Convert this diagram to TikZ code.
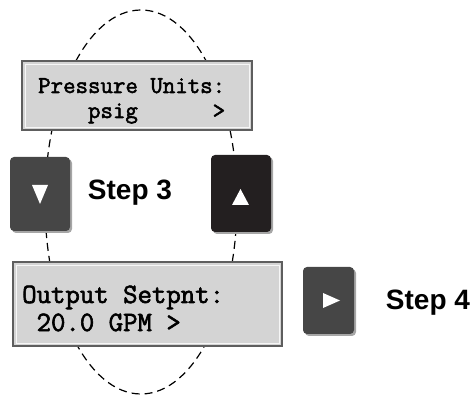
\documentclass[tikz,border=0pt]{standalone}
\usepackage{fontspec}
\setmainfont{Liberation Sans}
\newfontfamily\lcdfont[FakeBold=2.2]{Latin Modern Mono}
\usepackage{tikz}
\definecolor{lcdgray}{HTML}{D4D4D4}
\definecolor{lcdedge}{HTML}{5E5E5E}
\definecolor{keygray}{HTML}{464646}
\definecolor{keyblack}{HTML}{231F20}
\tikzset{
  lcdbox/.style={draw=lcdedge, line width=1.6pt, fill=lcdgray},
  keybox/.style={rounded corners=4pt},
  keyshadow/.style={fill=black!35, rounded corners=4pt},
  keymark/.style={fill=white, draw=none},
  steplabel/.style={font=\bfseries\fontsize{28}{28}\selectfont, inner sep=0pt}
}

\begin{document}
\begin{tikzpicture}[x=1pt, y=-1pt]
			%%%%% START %%%%%
			\useasboundingbox (0, 0) rectangle (474, 395);
			
			\draw[line width=1.2pt, dash pattern=on 8pt off 5pt] (141, 202) ellipse (96 and 192);
			
			\draw[lcdbox] (22, 61) rectangle (252, 130);
			\draw[line width=0.6pt, color=white!80!lcdgray] (25, 64) rectangle (249, 127);
			\node[anchor=base west, inner sep=0pt] (unitsA) at (38, 93) {\lcdfont\fontsize{24.2}{24.2}\selectfont Pressure Units:};
			\node[anchor=base west, inner sep=0pt] (unitsB) at (38, 118) {\lcdfont\fontsize{24.2}{24.2}\selectfont \hphantom{pres}psig\hphantom{ uni}\hphantom{ts}>};
			
			\draw[lcdbox] (13, 262) rectangle (282, 346);
			\draw[line width=0.6pt, color=white!80!lcdgray] (16, 265) rectangle (279, 343);
			\node[anchor=base west, inner sep=0pt] (setpA) at (22, 303) {\lcdfont\fontsize{28}{28}\selectfont Output Setpnt:};
			\node[anchor=base west, inner sep=0pt] (setpB) at (22, 331) {\lcdfont\fontsize{28}{28}\selectfont \hphantom{O}20.0 GPM >};
			
			% down key
			\fill[keyshadow] (12, 159) rectangle (72, 233);
			\fill[keybox, fill=keygray] (10, 157) rectangle (70, 231);
			\fill[keymark] (32, 185) -- (48, 185) -- (40, 204) -- cycle;
			
			% up key
			\fill[keyshadow] (213, 157) rectangle (273, 234);
			\fill[keybox, fill=keyblack] (211, 155) rectangle (271, 232);
			\fill[keymark] (232, 205) -- (249, 205) -- (240.5, 189) -- cycle;
			
			% right key
			\fill[keyshadow] (305, 269) rectangle (356, 336);
			\fill[keybox, fill=keygray] (303, 267) rectangle (354, 334);
			\fill[keymark] (323, 293) -- (323, 308) -- (340, 300.5) -- cycle;
			
			\node[steplabel] (step3) at (130, 193) {Step 3};
			\node[steplabel] (step4) at (428, 303) {Step 4};
			
			%%%%% END %%%%%
		\end{tikzpicture}
\end{document}
